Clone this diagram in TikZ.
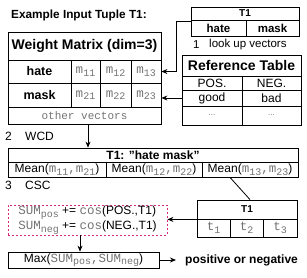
\documentclass[tikz,border=0pt]{standalone}
\usepackage{fontspec}
\setmainfont{Liberation Sans}
\setmonofont{Liberation Mono}
\usetikzlibrary{arrows.meta,calc}
\definecolor{mgray}{gray}{0.45}
\definecolor{pinkc}{HTML}{D62A7E}
\newcommand{\wmono}[2]{{\color{mgray}\ttfamily\fontsize{12.5}{14}\selectfont #1\raisebox{-2.5pt}{\fontsize{10}{12}\selectfont #2}}}
\newcommand{\wtt}[1]{{\color{mgray}\ttfamily\fontsize{12.5}{14}\selectfont #1}}
\tikzset{
  cell/.style={draw, line width=0.8pt, inner sep=0pt, font=\fontsize{12}{14}\selectfont},
  cellb/.style={cell, font=\bfseries\fontsize{12}{14}\selectfont},
  lbl/.style={inner sep=0pt, font=\fontsize{12}{14}\selectfont},
  arr/.style={-{Stealth[length=6pt,width=5pt]}, line width=0.8pt},
  plain/.style={line width=0.8pt}
}
\begin{document}
\begin{tikzpicture}[x=1pt,y=-1pt]
\useasboundingbox (0,0) rectangle (307,277);
% title
\node[lbl, font=\bfseries\fontsize{11.8}{14}\selectfont, anchor=west] (title) at (11,15) {Example Input Tuple T1:};
% weight matrix
\node[cell, font=\bfseries\fontsize{14}{16}\selectfont, minimum width=153pt, minimum height=28pt] (wt) at (84.5,46) {Weight Matrix (dim=3)};
\node[cellb, font=\bfseries\fontsize{12.5}{14}\selectfont, minimum width=63pt, minimum height=23pt] (whate) at (39.5,71.5) {hate};
\node[cell, minimum width=29pt, minimum height=23pt] (m11) at (85.5,71.5) {\wmono{m}{11}};
\node[cell, minimum width=31pt, minimum height=23pt] (m12) at (115.5,71.5) {\wmono{m}{12}};
\node[cell, minimum width=30pt, minimum height=23pt] (m13) at (146,71.5) {\wmono{m}{13}};
\node[cellb, font=\bfseries\fontsize{12.5}{14}\selectfont, minimum width=63pt, minimum height=24pt] (wmask) at (39.5,95) {mask};
\node[cell, minimum width=29pt, minimum height=24pt] (m21) at (85.5,95) {\wmono{m}{21}};
\node[cell, minimum width=31pt, minimum height=24pt] (m22) at (115.5,95) {\wmono{m}{22}};
\node[cell, minimum width=30pt, minimum height=24pt] (m23) at (146,95) {\wmono{m}{23}};
\node[cell, minimum width=153pt, minimum height=17pt] (wother) at (84.5,115.5) {{\color{mgray}\ttfamily\fontsize{11}{12}\selectfont other vectors}};
% top T1 box
\node[cellb, font=\bfseries\fontsize{10}{12}\selectfont, minimum width=108pt, minimum height=13pt] (th) at (245,13.5) {T1};
\node[cellb, font=\bfseries\fontsize{11.5}{13}\selectfont, minimum width=55pt, minimum height=16pt] (thate) at (218.5,28) {hate};
\node[cellb, font=\bfseries\fontsize{11.5}{13}\selectfont, minimum width=53pt, minimum height=16pt] (tmask) at (272.5,28) {mask};
\node[lbl, anchor=west, font=\fontsize{11.5}{13}\selectfont] (one) at (193,45) {1};
\node[lbl, anchor=west, font=\fontsize{11.5}{13}\selectfont] (lookup) at (209,45) {look up vectors};
% reference table
\node[cellb, font=\bfseries\fontsize{14}{16}\selectfont, minimum width=119pt, minimum height=21pt] (rt) at (241.5,65.5) {Reference Table};
\node[cell, minimum width=60pt, minimum height=14pt] (pos) at (212,83) {POS.};
\node[cell, minimum width=59pt, minimum height=14pt] (neg) at (271.5,83) {NEG.};
\node[cell, minimum width=60pt, minimum height=16pt] (good) at (212,98) {good};
\node[cell, minimum width=59pt, minimum height=16pt] (bad) at (271.5,98) {bad};
\node[cell, minimum width=60pt, minimum height=19pt] (dotsa) at (212,115.5) {{\color{mgray}\fontsize{8}{9}\selectfont ...}};
\node[cell, minimum width=59pt, minimum height=19pt] (dotsb) at (271.5,115.5) {{\color{mgray}\fontsize{8}{9}\selectfont ...}};
% lookup arrows
\draw[arr] ([yshift=-2pt]thate.north west) -- ++(-14,0) |- (m13.east);
\draw[arr] (good.west) -- (good.west -| m23.east);
% step 2
\node[lbl, anchor=west] (ntwo) at (5,136) {2};
\node[lbl, anchor=west] (wcd) at (25,136) {WCD};
\node[cellb, minimum width=290pt, minimum height=14pt] (hm) at (153,155) {T1: "hate mask"};
\node[cell, minimum width=98pt, minimum height=15pt] (mean1) at (57,169.5) {Mean(\wmono{m}{11}\wtt{,}\wmono{m}{21})};
\node[cell, minimum width=96pt, minimum height=15pt] (mean2) at (154,169.5) {Mean(\wmono{m}{12}\wtt{,}\wmono{m}{22})};
\node[cell, minimum width=96pt, minimum height=15pt] (mean3) at (250,169.5) {Mean(\wmono{m}{13}\wtt{,}\wmono{m}{23})};
\draw[arr] ([xshift=3.5pt]wother.south) -- ([xshift=3.5pt]wother.south |- hm.north);
% step 3
\node[lbl, anchor=west] (nthree) at (5,185) {3};
\node[lbl, anchor=west] (csc) at (25,185) {CSC};
\node[cellb, font=\bfseries\fontsize{10}{12}\selectfont, minimum width=100pt, minimum height=19pt] (tbh) at (247,209.5) {T1};
\node[cell, minimum width=33pt, minimum height=18pt] (tone) at (213.5,228) {\wmono{t}{1}};
\node[cell, minimum width=33pt, minimum height=18pt] (ttwo) at (246.5,228) {\wmono{t}{2}};
\node[cell, minimum width=34pt, minimum height=18pt] (tthree) at (280,228) {\wmono{t}{3}};
\draw[plain] ([xshift=-20pt]mean3.south) -- ([xshift=3pt]tbh.north);
\node[draw=pinkc, dash pattern=on 2pt off 2pt, line width=0.8pt, minimum width=159pt, minimum height=30pt, inner sep=0pt, align=left, font=\fontsize{12}{15}\selectfont] (pink) at (87.5,220)
  {\wmono{SUM}{pos} += \wtt{cos}(POS.,T1)\\\wmono{SUM}{neg} += \wtt{cos}(NEG.,T1)};
\draw[arr] (tbh.south west) -- (tbh.south west -| pink.east);
\node[cell, minimum width=151pt, minimum height=16pt] (mx) at (83.5,260) {Max(\wmono{SUM}{pos}\wtt{,}\wmono{SUM}{neg})};
\draw[arr] ([xshift=-7.5pt]pink.south) -- ([xshift=-7.5pt]pink.south |- mx.north);
\node[lbl, anchor=west, font=\bfseries\fontsize{12}{14}\selectfont] (res) at (185,260) {positive or negative};
\draw[arr] (mx.east) -- ([xshift=-9pt]res.west);
\end{tikzpicture}
\end{document}
